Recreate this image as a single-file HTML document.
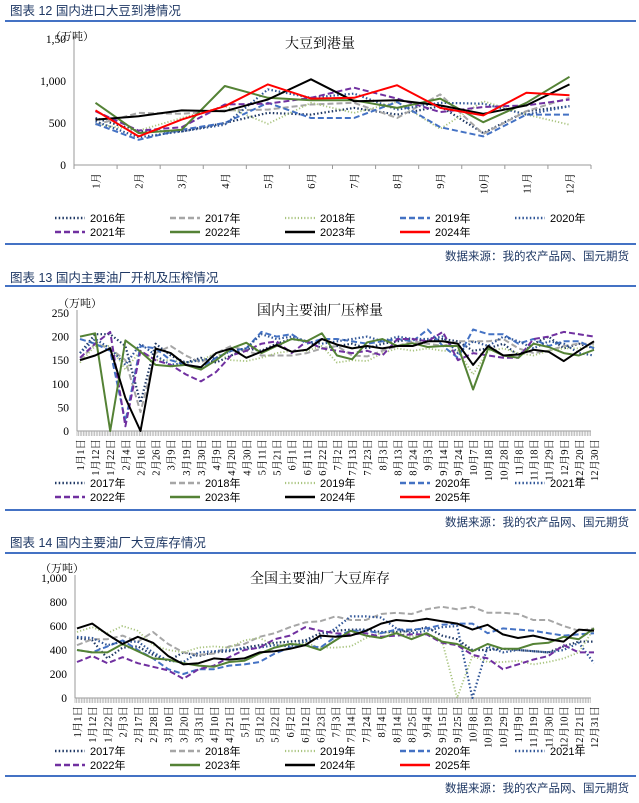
<!DOCTYPE html>
<html><head><meta charset="utf-8"><style>
body{margin:0;background:#fff;}
svg{display:block;font-family:"Liberation Sans","Noto Sans CJK SC",sans-serif;}
</style></head><body>
<svg id="s" width="639" height="803" viewBox="0 0 639 803"></svg>
<script>
// ---- Chart 1 data: 大豆到港量 (万吨) ----
const c1Cats = ['1月','2月','3月','4月','5月','6月','7月','8月','9月','10月','11月','12月'];
const c1Ticks = [0,500,1000,1500];
const c1TickLabels = ['0','500','1,000','1,50'];
const c1y2016 = [560,400,400,500,620,600,680,600,700,380,640,700];
const c1y2017 = [480,620,610,650,660,720,740,560,840,370,640,800];
const c1y2018 = [490,410,560,700,490,740,620,750,430,760,600,480];
const c1y2019 = [490,300,420,500,740,560,560,750,450,340,600,600];
const c1y2020 = [520,330,400,480,900,800,850,660,740,730,600,700];
const c1y2021 = [640,410,450,720,730,800,920,790,630,690,710,780];
const c1y2022 = [740,380,420,940,800,770,770,680,790,510,740,1050];
const c1y2023 = [540,580,650,640,780,1020,760,770,710,610,710,960];
const c1y2024 = [650,340,540,700,960,790,800,950,680,590,860,830];

// ---- Chart 2 data: 国内主要油厂压榨量 (万吨) ----
const c2Cats = ['1月1日','1月12日','1月22日','2月4日','2月16日','2月26日','3月9日','3月19日','3月30日','4月9日','4月20日','4月30日','5月11日','5月21日','6月1日','6月11日','6月22日','7月2日','7月13日','7月23日','8月3日','8月13日','8月24日','9月3日','9月14日','9月24日','10月7日','10月18日','10月28日','11月8日','11月18日','11月29日','12月9日','12月20日','12月30日'];
const c2Ticks = [0,50,100,150,200,250];
const c2y2017 = [165,205,205,180,60,185,160,145,155,145,160,175,170,185,195,190,175,180,185,175,185,190,195,190,195,190,170,175,185,160,185,200,175,185,175];
const c2y2018 = [150,185,175,150,40,165,180,160,145,165,180,170,160,160,160,165,175,180,160,158,170,180,190,185,180,190,190,190,195,175,165,170,180,185,185];
const c2y2019 = [145,180,180,130,170,150,150,145,150,165,150,148,155,165,170,170,180,145,150,148,165,175,170,175,170,170,120,170,175,165,160,170,175,175,180];
const c2y2020 = [195,185,170,20,180,175,150,140,135,155,170,175,210,200,205,185,195,195,190,185,190,195,190,215,180,155,215,205,205,185,195,180,190,190,175];
const c2y2021 = [165,195,175,140,185,160,140,145,150,155,170,175,205,195,200,190,185,190,195,200,190,200,195,195,200,165,190,180,200,190,175,190,185,165,160];
const c2y2022 = [155,185,210,10,170,150,140,120,105,125,160,170,185,190,165,190,175,170,165,170,160,195,195,190,210,150,165,160,155,155,195,200,210,205,200];
const c2y2023 = [200,207,0,192,168,140,137,140,130,150,175,187,165,180,195,190,207,160,152,188,195,180,186,178,180,180,88,175,160,155,185,178,165,160,172];
const c2y2024 = [150,160,175,70,0,175,165,140,135,165,175,155,168,182,168,172,195,183,175,180,175,180,180,190,190,185,140,180,160,162,172,168,148,170,190];

// ---- Chart 3 data: 全国主要油厂大豆库存 (万吨) ----
const c3Cats = ['1月1日','1月12日','1月22日','2月3日','2月17日','2月28日','3月10日','3月20日','3月31日','4月10日','4月21日','5月1日','5月12日','5月22日','6月2日','6月12日','6月23日','7月3日','7月14日','7月24日','8月4日','8月14日','8月25日','9月4日','9月15日','9月25日','10月8日','10月19日','10月29日','11月9日','11月19日','11月30日','12月10日','12月21日','12月31日'];
const c3Ticks = [0,200,400,600,800,1000];
const c3TickLabels = ['0','200','400','600','800','1,000'];
const c3y2017 = [500,480,330,420,430,360,310,380,350,380,390,420,440,460,470,480,540,560,570,570,550,550,560,590,520,490,400,400,410,400,390,380,430,470,470];
const c3y2018 = [440,490,490,520,470,550,450,380,360,370,430,450,510,540,590,630,640,680,650,650,700,710,700,740,760,740,760,710,710,700,650,650,600,560,580];
const c3y2019 = [550,590,540,600,560,440,400,380,420,430,420,480,500,440,450,460,420,420,430,500,540,550,510,540,480,0,350,300,300,310,280,300,330,380,580];
const c3y2020 = [400,380,430,480,400,330,240,200,240,240,270,280,300,370,420,440,420,510,560,560,540,570,570,580,610,620,620,540,580,570,560,540,520,530,540];
const c3y2021 = [510,500,440,470,470,380,310,300,380,390,400,410,420,440,430,470,500,580,680,680,670,580,540,560,590,600,0,430,380,400,390,380,400,460,290];
const c3y2022 = [300,350,290,340,290,260,230,160,240,270,340,400,420,490,520,590,560,540,530,540,510,520,530,530,460,440,360,330,240,280,320,350,440,380,380];
const c3y2023 = [400,380,380,450,390,330,320,290,270,260,300,310,370,420,450,440,400,480,560,520,500,540,490,540,470,450,390,450,410,410,450,460,510,490,580];
const c3y2024 = [580,620,530,450,510,460,350,280,290,330,320,330,380,390,410,440,520,510,520,560,620,650,640,660,640,620,570,610,530,500,520,490,470,570,560];

const S = document.getElementById('s');
const NS = 'http://www.w3.org/2000/svg';
function mk(tag, attrs, parent){
  const e = document.createElementNS(NS, tag);
  for (const k in attrs) e.setAttribute(k, attrs[k]);
  (parent||S).appendChild(e);
  return e;
}
const STY = {
  navyDot:{c:'#1F3864',d:'1.5 2.2',w:2.2},
  greyDash:{c:'#A6A6A6',d:'6 3',w:2},
  lgDot:{c:'#A9C47F',d:'1.2 2',w:1.8},
  blueDash:{c:'#4472C4',d:'6 3',w:2},
  blueDot:{c:'#2F5597',d:'1.5 2.2',w:2.2},
  purDash:{c:'#7030A0',d:'6 3',w:2},
  green:{c:'#548235',d:'',w:2},
  black:{c:'#000',d:'',w:2},
  red:{c:'#FF0000',d:'',w:2}
};
function header(y, text, lineY, srcY, name){
  const t = mk('text',{x:10,y:y,'font-size':12.5,fill:'#1F3864'});
  t.textContent = text;
  
  
  const l = mk('rect',{x:5,y:lineY,width:631,height:2,fill:'#4472C4'});
  
  
  const b = mk('rect',{x:5,y:srcY-11,width:631,height:2,fill:'#4472C4'});
  
  
  const s = mk('text',{x:629,y:srcY+6,'font-size':11.5,fill:'#1F3864','text-anchor':'end'});
  s.textContent = '数据来源：我的农产品网、国元期货';
  
  
}
function legend(entries, y1, y2, name){
  const xs=[55,170,285,400,515];
  entries.forEach((en,i)=>{
    const row = i<5?0:1, col = i<5?i:i-5;
    const y = row?y2:y1, x = xs[col];
    const g = mk('g',{});
    
    
    mk('line',{x1:x,y1:y,x2:x+30,y2:y,stroke:en[1].c,'stroke-width':en[1].w+0.4,'stroke-dasharray':en[1].d},g);
    const t = mk('text',{x:x+35,y:y+4,'font-size':11,fill:'#000'},g);
    t.textContent = en[0]+'年';
  });
}
function chart(o){
  const g = mk('g',{});
  
  
  const yS = v => o.y0 - (v/o.ymax)*(o.y0-o.ytop);
  const n = o.cats.length;
  const xS = o.band ? (i => o.x0 + (i+0.5)*(o.x1-o.x0)/n) : (i => o.xs + i*(o.xe-o.xs)/(n-1));
  // axes
  mk('line',{x1:o.x0,y1:o.ytop-3,x2:o.x0,y2:o.y0,stroke:'#999','stroke-width':1},g);
  mk('line',{x1:o.x0,y1:o.y0,x2:o.x1,y2:o.y0,stroke:'#999','stroke-width':1},g);
  if (o.band){
    for(let i=0;i<=n;i++){const x=o.x0+i*(o.x1-o.x0)/n; mk('line',{x1:x,y1:o.y0,x2:x,y2:o.y0+4,stroke:'#999'},g);}
  } else {
    for(let x=o.x0;x<=o.x1;x+=1.6) mk('line',{x1:x,y1:o.y0,x2:x,y2:o.y0+5,stroke:'#aaa','stroke-width':0.7},g);
  }
  o.ticks.forEach((v,i)=>{
    const t = mk('text',{x:o.x0-8,y:yS(v)+4,'font-size':11.5,'text-anchor':'end','font-family':'Liberation Serif, serif',fill:'#000'},g);
    t.textContent = o.tickLabels ? o.tickLabels[i] : String(v);
    
    
  });
  const u = mk('text',{x:o.unitX,y:o.unitY,'font-size':11,'font-family':'Liberation Serif, Noto Serif CJK SC, serif'},g);
  u.textContent='（万吨）';
  
  
  const ct = mk('text',{x:o.titleX,y:o.titleY,'font-size':14,'text-anchor':'middle','font-family':'Noto Serif CJK SC, serif'},g);
  ct.textContent = o.title;
  
  
  o.cats.forEach((c,i)=>{
    const x = xS(i);
    const t = mk('text',{x:0,y:0,'font-size':10.5,'text-anchor':'end','font-family':'Liberation Serif, Noto Serif CJK SC, serif',transform:`translate(${x+4},${o.y0+8}) rotate(-90)`},g);
    t.textContent = c;
    
    
  });
  o.series.forEach(sr=>{
    const pts = sr[1].map((v,i)=>xS(i).toFixed(1)+','+yS(v).toFixed(1)).join(' ');
    const p = mk('polyline',{points:pts,fill:'none',stroke:sr[2].c,'stroke-width':sr[2].w,'stroke-dasharray':sr[2].d,'stroke-linejoin':'round'},g);
    
    
  });
}

// Chart 1
header(15,'图表 12  国内进口大豆到港情况',20,254,'fig12');
chart({name:'soybean-arrival-chart',x0:74,x1:591,y0:165,ytop:39,ymax:1500,ticks:c1Ticks,tickLabels:c1TickLabels,cats:c1Cats,band:true,
  title:'大豆到港量',titleX:320,titleY:48,unitX:50,unitY:40,
  series:[['2016',c1y2016,STY.navyDot],['2017',c1y2017,STY.greyDash],['2018',c1y2018,STY.lgDot],['2019',c1y2019,STY.blueDash],['2020',c1y2020,STY.blueDot],['2021',c1y2021,STY.purDash],['2022',c1y2022,STY.green],['2023',c1y2023,STY.black],['2024',c1y2024,STY.red]]});
legend([['2016',STY.navyDot],['2017',STY.greyDash],['2018',STY.lgDot],['2019',STY.blueDash],['2020',STY.blueDot],['2021',STY.purDash],['2022',STY.green],['2023',STY.black],['2024',STY.red]],218,232,'fig12');

// Chart 2
header(282,'图表 13  国内主要油厂开机及压榨情况',285,520,'fig13');
chart({name:'crush-volume-chart',x0:77,x1:591,y0:431,ytop:313,ymax:250,ticks:c2Ticks,cats:c2Cats,band:false,xs:80,xe:594,
  title:'国内主要油厂压榨量',titleX:320,titleY:315,unitX:58,unitY:307,
  series:[['2017',c2y2017,STY.navyDot],['2018',c2y2018,STY.greyDash],['2019',c2y2019,STY.lgDot],['2020',c2y2020,STY.blueDash],['2021',c2y2021,STY.blueDot],['2022',c2y2022,STY.purDash],['2023',c2y2023,STY.green],['2024',c2y2024,STY.black]]});
legend([['2017',STY.navyDot],['2018',STY.greyDash],['2019',STY.lgDot],['2020',STY.blueDash],['2021',STY.blueDot],['2022',STY.purDash],['2023',STY.green],['2024',STY.black],['2025',STY.red]],483,497,'fig13');

// Chart 3
header(547,'图表 14  国内主要油厂大豆库存情况',552,786,'fig14');
chart({name:'soybean-inventory-chart',x0:75,x1:591,y0:698,ytop:578,ymax:1000,ticks:c3Ticks,tickLabels:c3TickLabels,cats:c3Cats,band:false,xs:77,xe:594,
  title:'全国主要油厂大豆库存',titleX:320,titleY:583,unitX:40,unitY:572,
  series:[['2017',c3y2017,STY.navyDot],['2018',c3y2018,STY.greyDash],['2019',c3y2019,STY.lgDot],['2020',c3y2020,STY.blueDash],['2021',c3y2021,STY.blueDot],['2022',c3y2022,STY.purDash],['2023',c3y2023,STY.green],['2024',c3y2024,STY.black]]});
legend([['2017',STY.navyDot],['2018',STY.greyDash],['2019',STY.lgDot],['2020',STY.blueDash],['2021',STY.blueDot],['2022',STY.purDash],['2023',STY.green],['2024',STY.black],['2025',STY.red]],751,765,'fig14');
</script>
</body></html>
